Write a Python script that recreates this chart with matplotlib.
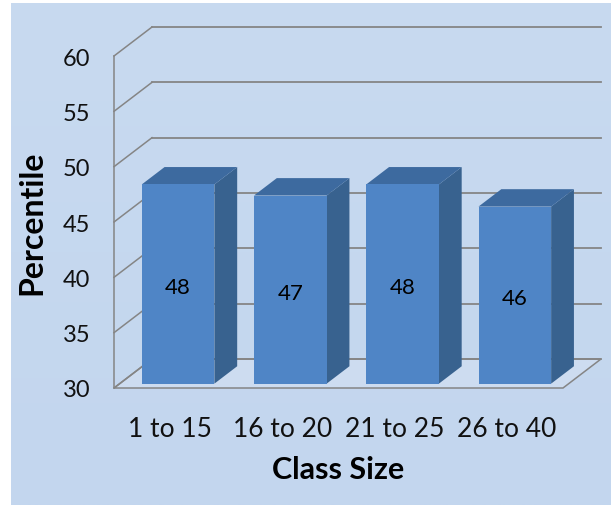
import numpy as np
import matplotlib.pyplot as plt
from matplotlib.patches import Polygon, Rectangle
from matplotlib.colors import LinearSegmentedColormap

categories = ["1 to 15", "16 to 20", "21 to 25", "26 to 40"]
percentiles = [48, 47, 48, 46]
y_ticks = [30, 35, 40, 45, 50, 55, 60]

plt.rcParams['font.family'] = ['Lato', 'DejaVu Sans']

W, H = 611, 506
fig = plt.figure(figsize=(W / 100, H / 100), dpi=100)
fig.patch.set_facecolor("#c5d8ef")

# light blue chart area with a soft vertical gradient
bg = fig.add_axes([0, 0, 1, 1])
cmap = LinearSegmentedColormap.from_list("bg", ["#c8daf0", "#c3d6ee"])
bg.imshow(np.linspace(0, 1, 256).reshape(-1, 1), aspect="auto", cmap=cmap,
          extent=[0, 1, 0, 1])
bg.set_xlim(0, 1)
bg.set_ylim(0, 1)
# thin white frame on the left and top
bg.add_patch(Rectangle((0, 0), 11 / W, 1, facecolor="white", edgecolor="none"))
bg.add_patch(Rectangle((0, 1 - 4 / H), 1, 4 / H, facecolor="white", edgecolor="none"))
bg.axis("off")

# front plane of the 3d box
ax = fig.add_axes([114 / W, (H - 389) / H, 449 / W, 332 / H])
ax.set_xlim(-0.5, len(categories) - 0.5)
ax.set_ylim(y_ticks[0], y_ticks[-1])
ax.patch.set_alpha(0)

# depth of the box in data units
DX = 38 / (449 / len(categories))
DY = 29 / (332 / (y_ticks[-1] - y_ticks[0]))
xl, xr = ax.get_xlim()
ybase = y_ticks[0]

grid_c = "#858585"
# floor
ax.add_patch(Polygon([(xl, ybase), (xr, ybase), (xr + DX, ybase + DY), (xl + DX, ybase + DY)],
                     closed=True, facecolor="#cddcf0", edgecolor=grid_c, lw=1.1,
                     clip_on=False, zorder=1))
# back wall gridlines and side wall diagonals
for v in y_ticks:
    ax.plot([xl, xl + DX], [v, v + DY], color=grid_c, lw=1.1, clip_on=False, zorder=1)
    ax.plot([xl + DX, xr + DX], [v + DY, v + DY], color=grid_c, lw=1.3, clip_on=False, zorder=1)

# bars
bw = 0.647
f0, f1 = 0.15, 0.6
front_c, side_c, top_c = "#4f85c6", "#38628f", "#3d6a9f"
for i, v in enumerate(percentiles):
    x0 = i - bw / 2 + f0 * DX + 0.02
    x1 = x0 + bw
    y0 = ybase + f0 * DY
    y1 = v + f0 * DY
    ddx, ddy = f1 * DX, f1 * DY
    z = 3 + i
    ax.add_patch(Polygon([(x1, y0), (x1 + ddx, y0 + ddy), (x1 + ddx, y1 + ddy), (x1, y1)],
                         facecolor=side_c, edgecolor="none", clip_on=False, zorder=z))
    ax.add_patch(Polygon([(x0, y1), (x1, y1), (x1 + ddx, y1 + ddy), (x0 + ddx, y1 + ddy)],
                         facecolor=top_c, edgecolor="none", clip_on=False, zorder=z))
    ax.add_patch(Polygon([(x0, y0), (x1, y0), (x1, y1), (x0, y1)],
                         facecolor=front_c, edgecolor="none", clip_on=False, zorder=z))
    ax.text((x0 + x1) / 2, (y0 + y1) / 2 - 0.3, str(v), ha="center", va="center",
            fontsize=16, color="black", zorder=10)

for s in ["top", "right", "bottom"]:
    ax.spines[s].set_visible(False)
ax.spines["left"].set_color(grid_c)
ax.spines["left"].set_linewidth(1.1)
ax.spines["left"].set_zorder(2)

ax.set_yticks(y_ticks)
ax.set_yticklabels([str(t) for t in y_ticks], fontsize=17, color="#111111")
ax.set_xticks(range(len(categories)))
ax.set_xticklabels(categories, fontsize=19, color="#111111")
ax.tick_params(axis="y", length=0, pad=17)
ax.tick_params(axis="x", length=0, pad=20)

ax.set_xlabel("Class Size", fontsize=22, fontweight="bold", labelpad=10)
ax.set_ylabel("Percentile", fontsize=23, fontweight="bold", labelpad=12)

fig.savefig("out.png", dpi=100)
